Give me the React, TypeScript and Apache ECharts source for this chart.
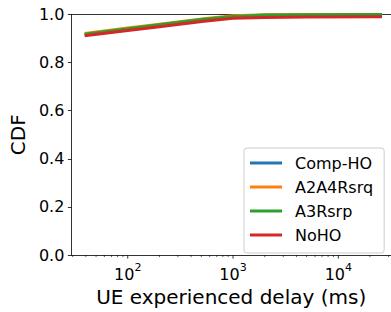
import React, { useEffect, useRef } from "react";
import * as echarts from "echarts";

const seriesNames = ["Comp-HO", "A2A4Rsrq", "A3Rsrp", "NoHO"];
const colors = ["#1f77b4", "#ff7f0e", "#2ca02c", "#d62728"];
const delayMs = [39, 100, 200, 530, 1000, 2000, 5000, 26000];
const compHO = [0.917, 0.94, 0.956, 0.979, 0.992, 0.998, 1.0, 1.0];
const a2a4rsrq = [0.921, 0.944, 0.96, 0.982, 0.995, 0.999, 1.0, 1.0];
const a3rsrp = [0.918, 0.941, 0.957, 0.98, 0.992, 0.997, 0.999, 1.0];
const noHO = [0.912, 0.9335, 0.9495, 0.972, 0.984, 0.988, 0.99, 0.991];
const seriesValues = [compHO, a2a4rsrq, a3rsrp, noHO];
const xMajorTicks = [100, 1000, 10000];
const xMinorTicks = [
  30, 40, 50, 60, 70, 80, 90,
  200, 300, 400, 500, 600, 700, 800, 900,
  2000, 3000, 4000, 5000, 6000, 7000, 8000, 9000,
  20000, 30000,
];
const X_MIN = 29.13;
const X_MAX = 31650;
const FONT = "DejaVu Sans";

export default function App() {
  const ref = useRef<HTMLDivElement>(null);
  useEffect(() => {
    if (!ref.current) return;
    const chart = echarts.init(ref.current, null, { renderer: "svg" });
    const tickData = [
      ...xMajorTicks.map((v) => [v, 1]),
      ...xMinorTicks.map((v) => [v, 0]),
    ];
    const lineSeries = seriesNames.map((name, i) => ({
      name,
      type: "line",
      showSymbol: false,
      symbol: "none",
      data: delayMs.map((x, j) => [x, seriesValues[i][j]]),
      lineStyle: { color: colors[i], width: 3, join: "round" },
      itemStyle: { color: colors[i] },
      z: 3 + i,
    }));
    chart.setOption({
      animation: false,
      grid: { left: 64, right: 0, top: 14.5, bottom: 52.5, containLabel: false },
      legend: {
        data: seriesNames,
        orient: "vertical",
        left: 244,
        top: 148,
        icon: "rect",
        itemWidth: 32,
        itemHeight: 3,
        itemGap: 8,
        padding: [7, 11, 10, 6],
        backgroundColor: "rgba(255,255,255,0.8)",
        borderColor: "#cccccc",
        borderWidth: 1,
        borderRadius: 3,
        textStyle: {
          fontFamily: FONT,
          fontSize: 16,
          lineHeight: 16,
          color: "#000",
          padding: [0, 0, 0, 8],
        },
      },
      xAxis: [
        {
          type: "log",
          min: X_MIN,
          max: X_MAX,
          name: "UE experienced delay (ms)",
          nameLocation: "middle",
          nameGap: 38,
          nameTextStyle: { fontFamily: FONT, fontSize: 20, color: "#000", verticalAlign: "middle" },
          axisLine: { show: true, onZero: false, lineStyle: { color: "#000", width: 0.8 } },
          axisTick: { show: false },
          splitLine: { show: false },
          minorTick: { show: false },
          axisLabel: {
            margin: 7,
            showMinLabel: false,
            showMaxLabel: false,
            formatter: (v: number) => {
              const l = Math.log10(v);
              const e = Math.round(l);
              if (Math.abs(l - e) > 1e-6 || !xMajorTicks.includes(Math.pow(10, e))) return "";
              return `{b|10}{s|${e}}`;
            },
            rich: {
              b: { fontFamily: FONT, fontSize: 16, color: "#000", lineHeight: 20, verticalAlign: "bottom" },
              s: { fontFamily: FONT, fontSize: 11, color: "#000", lineHeight: 20, verticalAlign: "top", padding: [0, 0, 6, 0] },
            },
          },
        },
        {
          type: "log",
          position: "top",
          min: X_MIN,
          max: X_MAX,
          axisLine: { show: true, onZero: false, lineStyle: { color: "#000", width: 0.8 } },
          axisTick: { show: false },
          axisLabel: { show: false },
          splitLine: { show: false },
        },
      ],
      yAxis: {
        type: "value",
        min: 0,
        max: 1,
        interval: 0.2,
        name: "CDF",
        nameLocation: "middle",
        nameGap: 41,
        nameTextStyle: { fontFamily: FONT, fontSize: 20, color: "#000" },
        axisLine: { show: true, lineStyle: { color: "#000", width: 0.8 } },
        axisTick: { show: true, length: 3.5, lineStyle: { color: "#000", width: 0.8 } },
        splitLine: { show: false },
        axisLabel: {
          margin: 7,
          fontFamily: FONT,
          fontSize: 16,
          color: "#000",
          formatter: (v: number) => v.toFixed(1),
        },
      },
      series: [
        ...lineSeries,
        {
          type: "custom",
          silent: true,
          clip: false,
          xAxisIndex: 0,
          yAxisIndex: 0,
          data: tickData,
          renderItem: (_params: any, api: any) => {
            const major = api.value(1) === 1;
            const p = api.coord([api.value(0), 0]);
            return {
              type: "line",
              shape: { x1: p[0], y1: p[1], x2: p[0], y2: p[1] + (major ? 3.5 : 2) },
              style: { stroke: "#000", lineWidth: major ? 0.8 : 0.6 },
            };
          },
          z: 10,
        },
      ],
    });
    return () => chart.dispose();
  }, []);
  return (
    <div
      ref={ref}
      style={{ position: "fixed", left: 0, top: 0, width: 391, height: 312, background: "#fff" }}
    />
  );
}
